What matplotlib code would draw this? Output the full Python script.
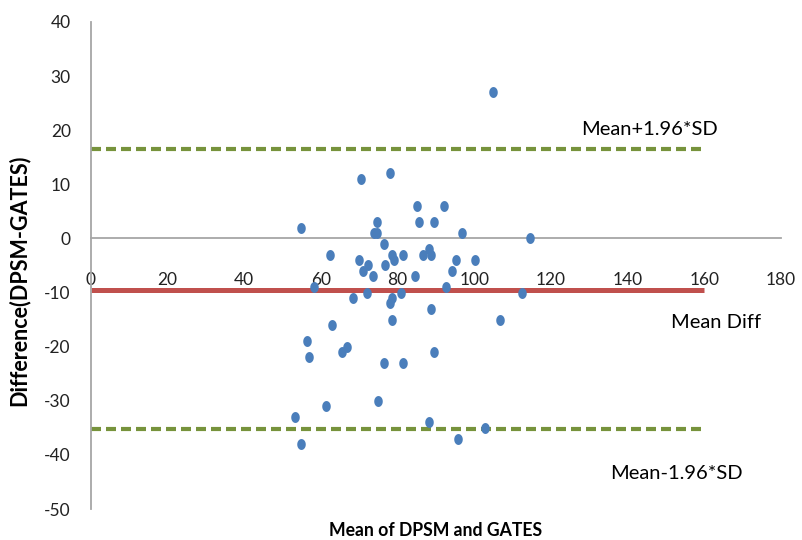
import matplotlib

matplotlib.use("Agg")
import matplotlib.pyplot as plt
import numpy as np

# Bland-Altman data: mean of the two methods vs difference
mean_vals = [
    104.8, 70.4, 78.0, 54.7, 85.0, 92.2, 74.5, 85.6, 89.6, 73.7,
    74.6, 96.7, 114.6, 76.5, 62.4, 78.6, 79.1, 81.5, 86.7, 88.2,
    88.8, 95.3, 100.3, 69.9, 72.3, 71.0, 73.6, 76.6, 84.6, 94.1,
    58.3, 71.9, 81.0, 92.6, 112.5, 68.4, 78.6, 78.0, 88.7, 106.8,
    78.5, 62.8, 56.3, 56.8, 66.9, 65.4, 89.6, 76.5, 81.4, 75.0,
    61.4, 53.1, 54.7, 88.2, 95.8, 102.9,
]
diff_vals = [
    27.0, 11.0, 12.0, 2.0, 6.0, 6.0, 3.0, 3.0, 3.0, 1.0,
    1.0, 1.0, 0.0, -1.0, -3.0, -3.0, -4.0, -3.0, -3.0, -2.0,
    -3.0, -4.0, -4.0, -4.0, -5.0, -6.0, -7.0, -5.0, -7.0, -6.0,
    -9.0, -10.0, -10.0, -9.0, -10.0, -11.0, -11.0, -12.0, -13.0, -15.0,
    -15.0, -16.0, -19.0, -22.0, -20.0, -21.0, -21.0, -23.0, -23.0, -30.0,
    -31.0, -33.0, -38.0, -34.0, -37.0, -35.0,
]

line_x = [0, 160]
mean_diff = -9.5
upper_loa = 16.5
lower_loa = -35.3

x_ticks = [0, 20, 40, 60, 80, 100, 120, 140, 160, 180]
y_ticks = [-50, -40, -30, -20, -10, 0, 10, 20, 30, 40]

BLUE = "#4A7EBB"
RED = "#C0504D"
GREEN = "#77933C"
AXIS_GREY = "#A6A6A6"

plt.rcParams["font.family"] = ["Lato", "DejaVu Sans"]
plt.rcParams["axes.unicode_minus"] = False

fig = plt.figure(figsize=(8.03, 5.40), dpi=100)
ax = fig.add_axes([0.1133, 0.0574, 0.8593, 0.9019])

# tall ellipse marker like the stretched Excel dots
t = np.linspace(0, 2 * np.pi, 40)
ellipse = list(zip(0.78 * np.cos(t), np.sin(t)))

ax.plot(line_x, [upper_loa] * 2, color=GREEN, lw=3.0, dashes=(2.4, 1.2), zorder=2)
ax.plot(line_x, [lower_loa] * 2, color=GREEN, lw=3.0, dashes=(2.4, 1.2), zorder=2)
ax.plot(line_x, [mean_diff] * 2, color=RED, lw=3.6, solid_capstyle="butt", zorder=2)

ax.scatter(mean_vals, diff_vals, marker=ellipse, s=62, color=BLUE, linewidths=0, zorder=3)

ax.set_xlim(0, 180)
ax.set_ylim(-50, 40)
ax.set_xticks(x_ticks)
ax.set_yticks(y_ticks)
ax.tick_params(axis="both", length=0, labelsize=12.5, colors="#222222")
ax.tick_params(axis="y", pad=14.5)
ax.tick_params(axis="x", pad=24)

for side in ("top", "right"):
    ax.spines[side].set_visible(False)
ax.spines["bottom"].set_position(("data", 0))
ax.spines["bottom"].set_color(AXIS_GREY)
ax.spines["bottom"].set_linewidth(1.3)
ax.spines["left"].set_color(AXIS_GREY)
ax.spines["left"].set_linewidth(1.3)

fig.text(19 / 803, 1 - 280 / 540, "Difference(DPSM-GATES)", rotation=90,
         ha="center", va="center", fontsize=15.5, fontweight="bold")
fig.text(436 / 803, 1 - 530 / 540, "Mean of DPSM and GATES", ha="center", va="center",
         fontsize=12.7, fontweight="bold")

ax.text(145.7, 20.1, "Mean+1.96*SD", ha="center", va="center", fontsize=14.5)
ax.text(163.0, -15.5, "Mean Diff", ha="center", va="center", fontsize=14.5)
ax.text(152.7, -43.4, "Mean-1.96*SD", ha="center", va="center", fontsize=14.5)

fig.savefig("out.png", dpi=100)
